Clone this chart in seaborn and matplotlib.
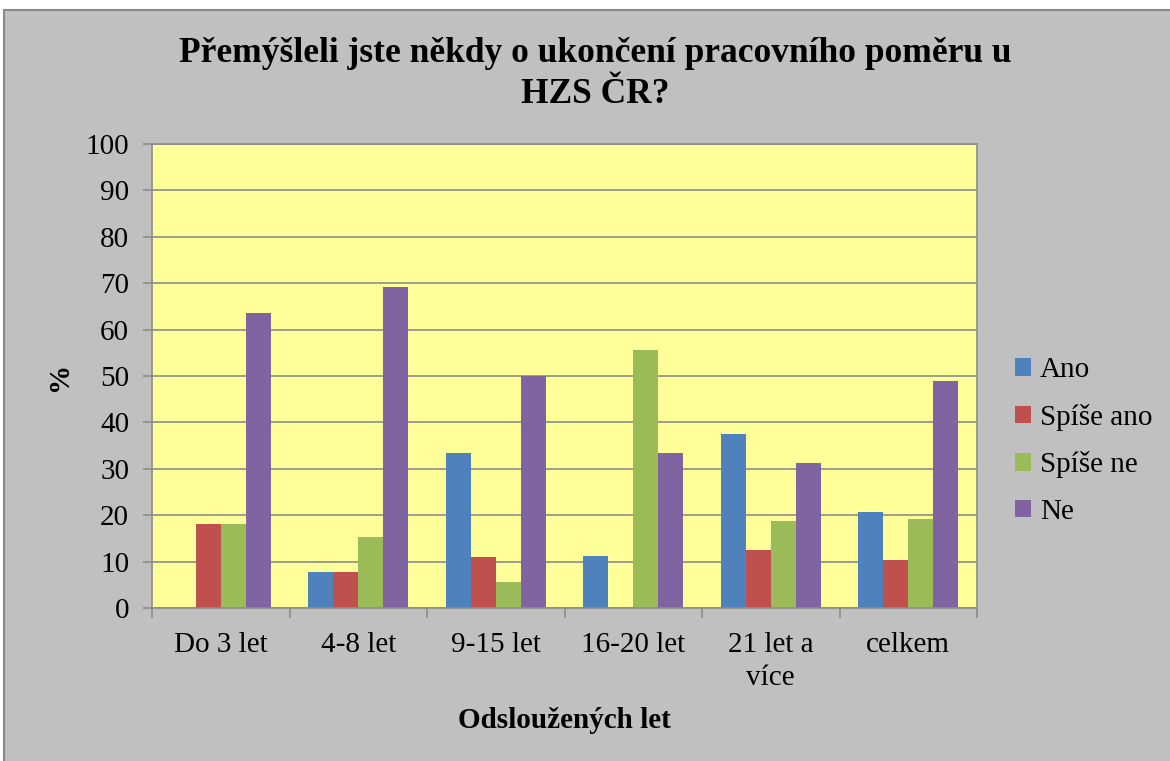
import pandas as pd
import numpy as np
import matplotlib
matplotlib.use("Agg")
import matplotlib.pyplot as plt
from matplotlib.patches import Rectangle
from matplotlib.ticker import FixedLocator
import seaborn as sns

sns.set_style("white")
plt.rcParams['font.family'] = ['Liberation Serif', 'DejaVu Serif']
plt.rcParams['text.color'] = 'black'
plt.rcParams['axes.labelcolor'] = 'black'
plt.rcParams['xtick.labelcolor'] = 'black'
plt.rcParams['ytick.labelcolor'] = 'black'

kategorie = ['Do 3 let', '4-8 let', '9-15 let', '16-20 let', '21 let a\nvíce', 'celkem']
odpovedi = ['Ano', 'Spíše ano', 'Spíše ne', 'Ne']

ano = [0.0, 7.7, 33.3, 11.1, 37.5, 20.6]
spise_ano = [18.2, 7.7, 10.9, 0.0, 12.5, 10.3]
spise_ne = [18.2, 15.4, 5.6, 55.6, 18.75, 19.2]
ne = [63.6, 69.2, 50.0, 33.3, 31.25, 49.0]

barvy = ['#4f81bd', '#c0504d', '#9bbb59', '#8064a2']

df = pd.DataFrame({
    'kategorie': kategorie * 4,
    'odpoved': np.repeat(odpovedi, len(kategorie)),
    'procenta': ano + spise_ano + spise_ne + ne,
})

W, H = 1170, 761
fig = plt.figure(figsize=(W / 100, H / 100), dpi=100)
fig.patch.set_facecolor('white')
# gray chart area with border
fig.patches.append(Rectangle((4 / W, -0.01), 1.0, (H - 10) / H + 0.01,
                             transform=fig.transFigure, facecolor='#c0c0c0',
                             edgecolor='#8a8a8a', linewidth=1.5, zorder=-10))

ax = fig.add_axes([152 / W, (H - 608) / H, (977 - 152) / W, (608 - 144) / H])
ax.set_facecolor('#ffff99')

sns.barplot(data=df, x='kategorie', y='procenta', hue='odpoved',
            palette=barvy, width=0.73, saturation=1, ax=ax,
            edgecolor='none', linewidth=0)

ax.set_ylim(0, 100)
ax.set_xlim(-0.5, len(kategorie) - 0.5)
ax.set_yticks(np.arange(0, 101, 10))
ax.yaxis.grid(True, color='#8c8c8c', linewidth=1.2)
ax.set_axisbelow(True)
for s in ax.spines.values():
    s.set_color('#8c8c8c')
    s.set_linewidth(1.2)

ax.tick_params(axis='y', left=True, length=6.5, width=1.2, color='#8c8c8c',
               labelsize=21, pad=10)
ax.tick_params(axis='x', which='major', bottom=False, length=0, labelsize=21, pad=17)
ax.xaxis.set_minor_locator(FixedLocator(np.arange(-0.5, len(kategorie), 1)))
ax.tick_params(axis='x', which='minor', bottom=True, length=7, width=1.2, color='#8c8c8c')
for lbl in ax.get_xticklabels():
    lbl.set_linespacing(1.35)

ax.set_xlabel('Odsloužených let', fontsize=21, fontweight='bold', labelpad=12)
ax.set_ylabel('%', fontsize=21, fontweight='bold', labelpad=9)

handles, labels = ax.get_legend_handles_labels()
ax.get_legend().remove()
fig.legend(handles, labels, loc='center left',
           bbox_to_anchor=(1015 / W, 1 - 441 / H), frameon=False,
           fontsize=21, handlelength=0.55, handleheight=0.55,
           handletextpad=0.3, labelspacing=0.70, borderpad=0, borderaxespad=0)

fig.text(595 / W, 1 - 74 / H, 'Přemýšleli jste někdy o ukončení pracovního poměru u\nHZS ČR?',
         ha='center', va='center', fontsize=25.5, fontweight='bold', linespacing=1.3)

fig.savefig('out.png', dpi=100)
